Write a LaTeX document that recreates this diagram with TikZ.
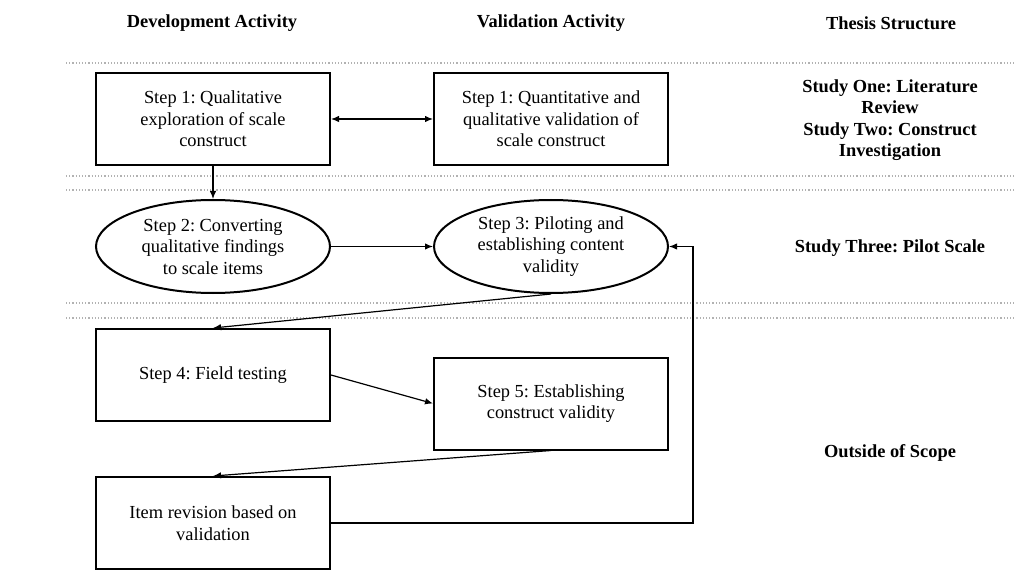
\documentclass[tikz,border=0pt]{standalone}
\usepackage{fontspec}
\setmainfont{Liberation Serif}
\frenchspacing
\usetikzlibrary{positioning,shapes.geometric,arrows.meta}

\tikzset{
  stepbox/.style={draw, line width=2pt, minimum width=234pt, minimum height=92pt, align=center, inner sep=0pt},
  stepoval/.style={draw, ellipse, line width=2pt, minimum width=234pt, minimum height=93pt, align=center, inner sep=0pt},
  arr/.style={->, line width=1.2pt},
  band/.style={gray!60, line width=1.2pt, dash pattern=on 1.2pt off 2pt},
  head/.style={font=\fontsize{18.4}{21.5}\selectfont\bfseries, align=center}
}

\begin{document}
\begin{tikzpicture}[x=1pt, y=-1pt, node distance=102pt, >={Latex[length=8pt,width=6.5pt]},
  font=\fontsize{18.4}{21.5}\selectfont]
\useasboundingbox (0,0) rectangle (1014,577);

% dotted bands
\foreach \y in {63,176,190,303,318}
  \draw[band] (66,\y) -- (1014,\y);

\node[head] (devhead) at (212,23) {Development Activity};
\node[head] (valhead) at (551,23) {Validation Activity};
\node[head] (thesishead) at (891,23) {Thesis Structure};

\node[stepbox] (step1l) at (213,119) {Step 1: Qualitative\\exploration of scale\\construct};
\node[stepbox] (step1r) [right=of step1l] {Step 1: Quantitative and\\qualitative validation of\\scale construct};
\node[stepoval] (step2) [below=33pt of step1l] {Step 2: Converting\\qualitative findings\\to scale items};
\node[stepoval] (step3) [right=of step2] {Step 3: Piloting and\\establishing content\\validity};
\node[stepbox] (step4) [below=34pt of step2] {Step 4: Field testing};
\node[stepbox] (step5) [right=of step4, yshift=-28.5pt] {Step 5: Establishing\\construct validity};
\node[stepbox] (item) [below=54pt of step4] {Item revision based on\\validation};

\node[head] (study12) at (890,120) {Study One: Literature\\Review\\Study Two: Construct\\Investigation};
\node[head] (study3) at (890,248) {Study Three: Pilot Scale};
\node[head] (outside) at (890,453) {Outside of Scope};

\draw[arr, <->] (step1l) -- (step1r);
\draw[arr] (step1l) -- (step2);
\draw[arr] (step2) -- (step3);
\draw[arr] (step3.south) -- (step4.north);
\draw[arr] (step4.east) -- (step5.west);
\draw[arr] (step5.south) -- (item.north);
\coordinate (fb) at ([xshift=24pt]step3.east);
\draw[arr] (item.east) -| (fb) -- (step3.east);
\end{tikzpicture}
\end{document}
